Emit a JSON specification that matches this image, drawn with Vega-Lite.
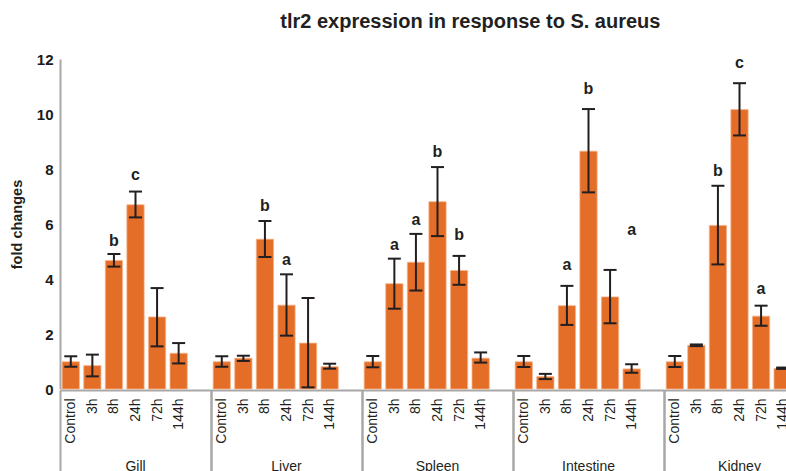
{
  "$schema": "https://vega.github.io/schema/vega-lite/v6.json",
  "padding": {"left": 9, "top": 12, "right": 0, "bottom": 0},
  "title": {"text": "tlr2 expression in response to S. aureus", "font": "Liberation Sans", "fontSize": 20, "fontWeight": "bold", "color": "#231F20", "anchor": "start", "frame": "bounds", "offset": 20, "dx": 271},
  "data": {"values": [
    {"tissue": "Gill", "time": "Control", "mean": 0.99, "lo": 0.81, "hi": 1.19, "letter": null, "letter_y": null},
    {"tissue": "Gill", "time": "3h", "mean": 0.85, "lo": 0.46, "hi": 1.25, "letter": null, "letter_y": null},
    {"tissue": "Gill", "time": "8h", "mean": 4.67, "lo": 4.45, "hi": 4.91, "letter": "b", "letter_y": 5.21},
    {"tissue": "Gill", "time": "24h", "mean": 6.70, "lo": 6.24, "hi": 7.18, "letter": "c", "letter_y": 7.61},
    {"tissue": "Gill", "time": "72h", "mean": 2.62, "lo": 1.55, "hi": 3.67, "letter": null, "letter_y": null},
    {"tissue": "Gill", "time": "144h", "mean": 1.30, "lo": 0.93, "hi": 1.67, "letter": null, "letter_y": null},
    {"tissue": "Liver", "time": "Control", "mean": 0.99, "lo": 0.81, "hi": 1.19, "letter": null, "letter_y": null},
    {"tissue": "Liver", "time": "3h", "mean": 1.12, "lo": 1.02, "hi": 1.21, "letter": null, "letter_y": null},
    {"tissue": "Liver", "time": "8h", "mean": 5.45, "lo": 4.80, "hi": 6.11, "letter": "b", "letter_y": 6.48},
    {"tissue": "Liver", "time": "24h", "mean": 3.05, "lo": 1.94, "hi": 4.17, "letter": "a", "letter_y": 4.51},
    {"tissue": "Liver", "time": "72h", "mean": 1.67, "lo": 0.06, "hi": 3.31, "letter": null, "letter_y": null},
    {"tissue": "Liver", "time": "144h", "mean": 0.81, "lo": 0.74, "hi": 0.92, "letter": null, "letter_y": null},
    {"tissue": "Spleen", "time": "Control", "mean": 0.99, "lo": 0.79, "hi": 1.20, "letter": null, "letter_y": null},
    {"tissue": "Spleen", "time": "3h", "mean": 3.83, "lo": 2.92, "hi": 4.74, "letter": "a", "letter_y": 5.07},
    {"tissue": "Spleen", "time": "8h", "mean": 4.61, "lo": 3.58, "hi": 5.64, "letter": "a", "letter_y": 5.97},
    {"tissue": "Spleen", "time": "24h", "mean": 6.81, "lo": 5.56, "hi": 8.07, "letter": "b", "letter_y": 8.45},
    {"tissue": "Spleen", "time": "72h", "mean": 4.31, "lo": 3.79, "hi": 4.84, "letter": "b", "letter_y": 5.43},
    {"tissue": "Spleen", "time": "144h", "mean": 1.12, "lo": 0.96, "hi": 1.33, "letter": null, "letter_y": null},
    {"tissue": "Intestine", "time": "Control", "mean": 0.99, "lo": 0.80, "hi": 1.20, "letter": null, "letter_y": null},
    {"tissue": "Intestine", "time": "3h", "mean": 0.45, "lo": 0.36, "hi": 0.55, "letter": null, "letter_y": null},
    {"tissue": "Intestine", "time": "8h", "mean": 3.03, "lo": 2.33, "hi": 3.75, "letter": "a", "letter_y": 4.34},
    {"tissue": "Intestine", "time": "24h", "mean": 8.65, "lo": 7.15, "hi": 10.18, "letter": "b", "letter_y": 10.73},
    {"tissue": "Intestine", "time": "72h", "mean": 3.35, "lo": 2.39, "hi": 4.33, "letter": null, "letter_y": null},
    {"tissue": "Intestine", "time": "144h", "mean": 0.73, "lo": 0.59, "hi": 0.90, "letter": "a", "letter_y": 5.61},
    {"tissue": "Kidney", "time": "Control", "mean": 0.99, "lo": 0.80, "hi": 1.20, "letter": null, "letter_y": null},
    {"tissue": "Kidney", "time": "3h", "mean": 1.59, "lo": 1.56, "hi": 1.62, "letter": null, "letter_y": null},
    {"tissue": "Kidney", "time": "8h", "mean": 5.95, "lo": 4.53, "hi": 7.39, "letter": "b", "letter_y": 7.76},
    {"tissue": "Kidney", "time": "24h", "mean": 10.16, "lo": 9.22, "hi": 11.12, "letter": "c", "letter_y": 11.66},
    {"tissue": "Kidney", "time": "72h", "mean": 2.65, "lo": 2.30, "hi": 3.03, "letter": "a", "letter_y": 3.45},
    {"tissue": "Kidney", "time": "144h", "mean": 0.75, "lo": 0.73, "hi": 0.78, "letter": null, "letter_y": null}
  ]},
  "facet": {
    "column": {
      "field": "tissue", "type": "nominal",
      "sort": ["Gill", "Liver", "Spleen", "Intestine", "Kidney"],
      "header": {"title": null, "labelOrient": "bottom", "labelFont": "Liberation Sans", "labelFontSize": 14, "labelColor": "#231F20", "labelPadding": -13}
    }
  },
  "spacing": 0,
  "spec": {
    "width": 151,
    "height": 330,
    "encoding": {
      "x": {
        "field": "time", "type": "nominal",
        "scale": {"domain": ["Control", "3h", "8h", "24h", "72h", "144h", " "], "paddingInner": 0, "paddingOuter": 0},
        "axis": {
          "title": null, "labelAngle": -90, "labelAlign": "right", "labelBaseline": "middle",
          "labelFont": "Liberation Sans", "labelFontSize": 14, "labelColor": "#231F20", "labelPadding": -74,
          "domainColor": "#A7A7A7", "domainWidth": 2,
          "tickBand": "extent", "tickColor": "#A7A7A7", "tickWidth": 2, "tickSize": 82,
          "tickOpacity": {"condition": {"test": "datum.value === ' ' || datum.extra != null", "value": 1}, "value": 0}
        }
      }
    },
    "layer": [
      {
        "mark": {"type": "bar", "width": {"band": 0.8}, "color": "#E46D27", "stroke": "#F6B48C", "strokeWidth": 0.8},
        "encoding": {
          "y": {
            "field": "mean", "type": "quantitative",
            "scale": {"domain": [0, 12]},
            "axis": {
              "title": "fold changes", "titleFont": "Liberation Sans", "titleFontSize": 14.5, "titleFontWeight": "bold", "titleColor": "#231F20", "titlePadding": 12,
              "values": [0, 2, 4, 6, 8, 10, 12], "labelFont": "Liberation Sans", "labelFontSize": 15, "labelFontWeight": "bold", "labelColor": "#1A1A1A", "labelPadding": 7,
              "ticks": false, "grid": false, "domainColor": "#A7A7A7", "domainWidth": 2
            }
          }
        }
      },
      {
        "mark": {"type": "rule", "color": "#231F20", "strokeWidth": 2},
        "encoding": {"y": {"field": "lo", "type": "quantitative"}, "y2": {"field": "hi"}}
      },
      {
        "mark": {"type": "tick", "color": "#231F20", "thickness": 2, "size": 13, "opacity": 1},
        "encoding": {"y": {"field": "lo", "type": "quantitative"}}
      },
      {
        "mark": {"type": "tick", "color": "#231F20", "thickness": 2, "size": 13, "opacity": 1},
        "encoding": {"y": {"field": "hi", "type": "quantitative"}}
      },
      {
        "transform": [{"filter": "datum.letter != null"}],
        "mark": {"type": "text", "font": "Liberation Sans", "fontWeight": "bold", "fontSize": 16, "baseline": "alphabetic", "color": "#231F20"},
        "encoding": {"y": {"field": "letter_y", "type": "quantitative"}, "text": {"field": "letter"}}
      }
    ]
  },
  "config": {
    "view": {"stroke": null},
    "background": "white"
  }
}
